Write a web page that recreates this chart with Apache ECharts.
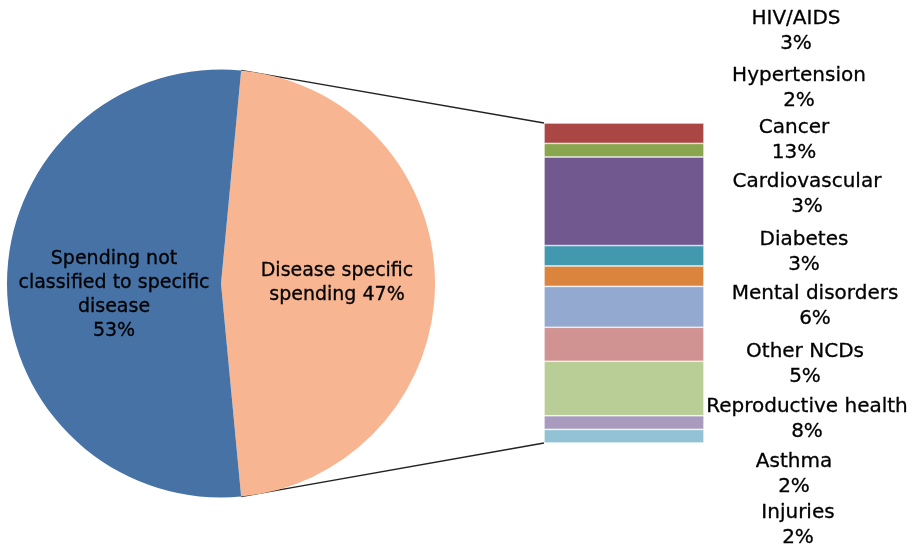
<!DOCTYPE html>
<html>
<head>
<meta charset="utf-8">
<title>Health spending by disease</title>
<script src="https://cdn.jsdelivr.net/npm/echarts@6/dist/echarts.min.js"></script>
<style>
  html, body { margin: 0; padding: 0; background: #fff; }
  #chart { width: 913px; height: 548px; }
</style>
</head>
<body>
<div id="chart"></div>
<script>
// Overall split of health spending
const pieNames = ['Disease specific spending', 'Spending not classified to specific disease'];
const pieValues = [47, 53];
const pieLabelText = ['Disease specific\nspending', 'Spending not\nclassified to specific\ndisease'];
const pieLabelSep = [' ', '\n'];
const pieColors = ['#f7b592', '#4672a6'];

// Breakdown of disease specific spending (share of total, %)
const categories = ['HIV/AIDS', 'Hypertension', 'Cancer', 'Cardiovascular', 'Diabetes',
  'Mental disorders', 'Other NCDs', 'Reproductive health', 'Asthma', 'Injuries'];
const shares = [3, 2, 13, 3, 3, 6, 5, 8, 2, 2];
const barColors = ['#aa4643', '#89a54e', '#71588f', '#4198af', '#db843d',
  '#93a9cf', '#d19392', '#b9cd96', '#a99bbd', '#92c3d4'];

// Layout: pie geometry, bar column and label column
const PIE_CX = 221, PIE_CY = 283.5, PIE_R = 214;
const BAR_LEFT = 544, BAR_TOP = 123, BAR_W = 160, BAR_H = 320;
const labelX = [796, 799, 794, 807, 804, 815, 805, 807, 794, 798];
const labelY = [31, 88, 140, 194, 252, 306, 364, 419, 474, 525];

const total = shares.reduce((a, b) => a + b, 0);
const FONT = 'DejaVu Sans';
const TEXT_COLOR = '#000';

// Peach slice is centred on the right-hand side, facing the bar
const halfAngle = pieValues[0] / (pieValues[0] + pieValues[1]) * 360 / 2;

const chart = echarts.init(document.getElementById('chart'), null, { renderer: 'canvas' });

const barSeries = categories.map((name, i) => ({
  type: 'bar',
  name: name,
  stack: 'total',
  barWidth: '100%',
  data: [shares[i]],
  itemStyle: { color: barColors[i], borderColor: '#ffffff', borderWidth: 0.6 },
  label: {
    show: true,
    formatter: '{a}\n{c}%',
    fontFamily: FONT,
    fontSize: 20,
    lineHeight: 25,
    color: TEXT_COLOR,
    textBorderColor: TEXT_COLOR,
    textBorderWidth: 0.3
  },
  labelLayout: function () {
    return { x: labelX[i], y: labelY[i], align: 'center', verticalAlign: 'middle' };
  },
  emphasis: { disabled: true }
}));

chart.setOption({
  animation: false,
  grid: { left: BAR_LEFT, top: BAR_TOP, width: BAR_W, height: BAR_H, containLabel: false },
  xAxis: { type: 'category', data: ['Disease specific'], show: false },
  yAxis: { type: 'value', min: 0, max: total, inverse: true, show: false },
  series: [
    {
      type: 'pie',
      center: [PIE_CX, PIE_CY],
      radius: PIE_R,
      startAngle: halfAngle,
      clockwise: true,
      avoidLabelOverlap: false,
      data: pieNames.map((n, i) => ({
        name: n,
        value: pieValues[i],
        itemStyle: { color: pieColors[i] },
        label: i === 0 ? { offset: [6, 0] } : { offset: [3, 12] }
      })),
      itemStyle: { borderWidth: 0 },
      label: {
        show: true,
        position: 'inside',
        formatter: p => pieLabelText[p.dataIndex] + pieLabelSep[p.dataIndex] + p.value + '%',
        fontFamily: FONT,
        fontSize: 19,
        lineHeight: 24,
        color: TEXT_COLOR,
        textBorderColor: TEXT_COLOR,
        textBorderWidth: 0.3,
        align: 'center'
      },
      labelLine: { show: false },
      emphasis: { disabled: true }
    }
  ].concat(barSeries)
});

// Connector lines from the peach slice edges to the top and bottom of the bar
const rad = halfAngle * Math.PI / 180;
const topPt = [PIE_CX + PIE_R * Math.cos(rad), PIE_CY - PIE_R * Math.sin(rad)];
const botPt = [PIE_CX + PIE_R * Math.cos(rad), PIE_CY + PIE_R * Math.sin(rad)];
const barTopY = chart.convertToPixel({ yAxisIndex: 0 }, 0);
const barBotY = chart.convertToPixel({ yAxisIndex: 0 }, total);

chart.setOption({
  graphic: [
    { type: 'line', shape: { x1: topPt[0], y1: topPt[1], x2: BAR_LEFT, y2: barTopY },
      style: { stroke: '#222', lineWidth: 1.3 }, z: 0 },
    { type: 'line', shape: { x1: botPt[0], y1: botPt[1], x2: BAR_LEFT, y2: barBotY },
      style: { stroke: '#222', lineWidth: 1.3 }, z: 0 }
  ]
});
</script>
</body>
</html>
